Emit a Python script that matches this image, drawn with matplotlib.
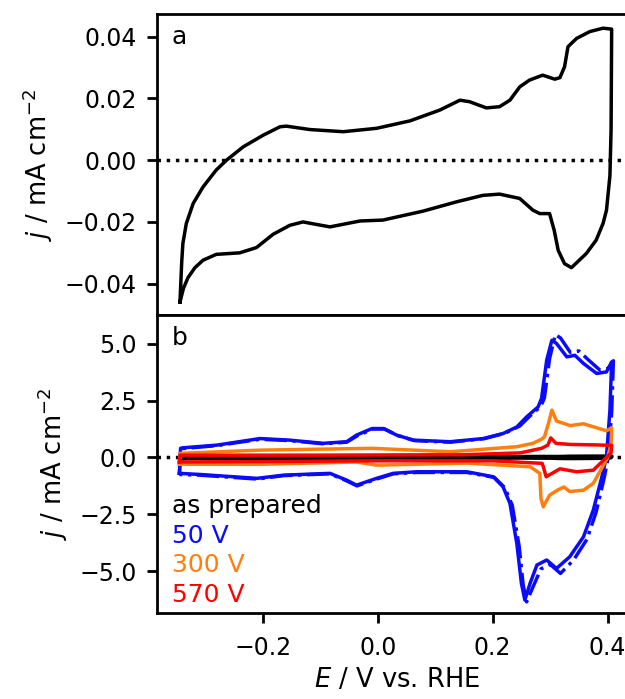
import matplotlib
matplotlib.use('Agg')
import matplotlib.pyplot as plt

# panel a: as prepared CV (mA cm-2)
E_asprep = [-0.344, -0.341, -0.339, -0.333, -0.321, -0.304, -0.281, -0.263, -0.234, -0.199,
            -0.170, -0.159, -0.118, -0.060, -0.002, 0.056, 0.108, 0.143, 0.160, 0.189,
            0.212, 0.230, 0.247, 0.264, 0.287, 0.308, 0.317, 0.325, 0.331, 0.346,
            0.369, 0.392, 0.407, 0.406, 0.404, 0.398, 0.392, 0.380, 0.363, 0.337,
            0.325, 0.314, 0.307, 0.299, 0.282, 0.270, 0.247, 0.212, 0.183, 0.137,
            0.079, 0.009, -0.031, -0.083, -0.107, -0.130, -0.153, -0.182, -0.211, -0.240,
            -0.281, -0.304, -0.318, -0.330, -0.338, -0.344]
j_asprep = [-0.0459, -0.0330, -0.0270, -0.0205, -0.0140, -0.0087, -0.0032, 0.0000, 0.0043, 0.0081,
            0.0108, 0.0110, 0.0099, 0.0092, 0.0103, 0.0127, 0.0162, 0.0194, 0.0189, 0.0169,
            0.0173, 0.0194, 0.0237, 0.0259, 0.0275, 0.0262, 0.0267, 0.0302, 0.0367, 0.0394,
            0.0416, 0.0427, 0.0424, 0.0100, -0.0050, -0.0162, -0.0205, -0.0259, -0.0302, -0.0348,
            -0.0335, -0.0292, -0.0227, -0.0173, -0.0173, -0.0162, -0.0124, -0.0110, -0.0114, -0.0135,
            -0.0165, -0.0194, -0.0197, -0.0216, -0.0208, -0.0200, -0.0211, -0.0240, -0.0283, -0.0300,
            -0.0305, -0.0324, -0.0348, -0.0380, -0.0415, -0.0459]

# panel b: 50 V, two cycles
E_50 = [-0.345, -0.343, -0.340, -0.280, -0.205, -0.153, -0.095, -0.054, -0.037, -0.010,
        0.010, 0.033, 0.062, 0.126, 0.184, 0.218, 0.242, 0.259, 0.279, 0.285,
        0.294, 0.303, 0.311, 0.329, 0.343, 0.358, 0.381, 0.398, 0.407, 0.404,
        0.398, 0.390, 0.375, 0.358, 0.334, 0.311, 0.294, 0.277, 0.265, 0.256,
        0.250, 0.242, 0.230, 0.218, 0.201, 0.155, 0.068, 0.027, -0.002, -0.037,
        -0.054, -0.083, -0.164, -0.210, -0.251, -0.309, -0.345]
j_50 = [-0.70, 0.40, 0.42, 0.54, 0.83, 0.76, 0.62, 0.69, 0.98, 1.27,
        1.27, 0.98, 0.76, 0.69, 0.83, 1.05, 1.34, 1.78, 2.22, 2.59,
        4.28, 5.15, 5.01, 4.42, 4.49, 4.13, 3.69, 3.76, 4.20, 2.08,
        0.03, -0.85, -2.32, -3.49, -4.37, -4.88, -4.51, -4.73, -5.54, -6.27,
        -5.54, -3.78, -2.02, -1.29, -0.85, -0.63, -0.63, -0.70, -0.92, -1.22,
        -1.00, -0.70, -0.78, -0.92, -0.85, -0.75, -0.70]

E_50b = [-0.345, -0.343, -0.280, -0.205, -0.153, -0.095, -0.054, -0.035, -0.008, 0.012,
         0.035, 0.064, 0.126, 0.186, 0.222, 0.247, 0.264, 0.284, 0.290, 0.299,
         0.309, 0.318, 0.335, 0.350, 0.366, 0.386, 0.400, 0.410, 0.407, 0.401,
         0.394, 0.380, 0.364, 0.341, 0.318, 0.300, 0.284, 0.270, 0.259, 0.253,
         0.246, 0.234, 0.221, 0.203, 0.155, 0.068, 0.027, -0.002, -0.036, -0.054,
         -0.083, -0.164, -0.210, -0.251, -0.309, -0.345]
j_50b = [-0.75, 0.38, 0.52, 0.80, 0.74, 0.60, 0.67, 0.96, 1.25, 1.25,
         0.96, 0.74, 0.67, 0.83, 1.07, 1.38, 1.80, 2.26, 2.62, 4.35,
         5.40, 5.25, 4.62, 4.68, 4.30, 3.85, 3.90, 4.25, 2.00, 0.00,
         -0.90, -2.40, -3.60, -4.50, -5.10, -4.70, -4.90, -5.70, -6.35, -5.60,
         -3.90, -2.10, -1.33, -0.88, -0.66, -0.66, -0.72, -0.95, -1.25, -1.03,
         -0.72, -0.80, -0.95, -0.88, -0.78, -0.75]

# 300 V
E_300 = [-0.345, -0.344, -0.205, -0.010, 0.126, 0.242, 0.270, 0.285, 0.290, 0.297,
         0.303, 0.311, 0.335, 0.358, 0.398, 0.407, 0.406, 0.400, 0.387, 0.375,
         0.358, 0.334, 0.324, 0.314, 0.299, 0.288, 0.284, 0.282, 0.265, 0.155,
         -0.002, -0.037, -0.200, -0.345]
j_300 = [-0.30, 0.18, 0.32, 0.40, 0.25, 0.47, 0.62, 0.80, 0.90, 1.49,
         2.08, 1.60, 1.40, 1.48, 1.17, 1.30, 0.60, 0.00, -0.60, -1.14,
         -1.44, -1.50, -1.30, -1.42, -1.66, -2.17, -1.80, -0.70, -0.41, -0.25,
         -0.34, -0.20, -0.30, -0.30]

# 570 V
E_570 = [-0.345, -0.344, -0.100, 0.150, 0.248, 0.285, 0.296, 0.301, 0.310, 0.335,
         0.380, 0.407, 0.406, 0.398, 0.375, 0.346, 0.317, 0.293, 0.288, 0.286,
         0.200, 0.000, -0.345]
j_570 = [-0.20, 0.10, 0.10, 0.12, 0.20, 0.40, 0.54, 0.86, 0.62, 0.57,
         0.55, 0.53, 0.20, 0.00, -0.56, -0.63, -0.50, -0.85, -0.40, -0.26,
         -0.15, -0.15, -0.20]

labels = ['as prepared', '50 V', '300 V', '570 V']
colors = ['black', '#0a0aff', '#ff7f0e', '#ff0000']

plt.rcParams['font.family'] = 'DejaVu Sans'
plt.rcParams['font.size'] = 18
plt.rcParams['xtick.labelsize'] = 17
plt.rcParams['ytick.labelsize'] = 17
plt.rcParams['axes.labelsize'] = 18.5
plt.rcParams['axes.labelpad'] = 7
plt.rcParams['axes.linewidth'] = 2
plt.rcParams['xtick.major.width'] = 2
plt.rcParams['ytick.major.width'] = 2
plt.rcParams['xtick.major.size'] = 7.5
plt.rcParams['ytick.major.size'] = 7.5
plt.rcParams['xtick.major.pad'] = 9
plt.rcParams['ytick.major.pad'] = 7

fig = plt.figure(figsize=(6.25, 6.99), dpi=100)
ax1 = fig.add_axes([0.2512, 0.549, 0.767, 0.431])
ax2 = fig.add_axes([0.2512, 0.123, 0.767, 0.426], sharex=ax1)

ax1.plot(E_asprep, j_asprep, color='k', lw=2.5)
ax1.axhline(0, color='k', ls=':', lw=2.5)
ax1.set_ylim(-0.0502, 0.0473)
ax1.set_yticks([-0.04, -0.02, 0.0, 0.02, 0.04])
ax1.set_ylabel('$j$ / mA cm$^{-2}$')
ax1.tick_params(axis='x', bottom=False, labelbottom=False)
ax1.text(0.03, 0.965, 'a', transform=ax1.transAxes, va='top', ha='left', fontsize=18)

ax2.axhline(0, color='k', ls=':', lw=2.5)
ax2.plot(E_asprep, j_asprep, color=colors[0], lw=3, label=labels[0])
ax2.plot(E_50, j_50, color=colors[1], lw=2.5, label=labels[1])
ax2.plot(E_50b, j_50b, color=colors[1], lw=2.5, ls='-.')
ax2.plot(E_300, j_300, color=colors[2], lw=2.5, label=labels[2])
ax2.plot(E_570, j_570, color=colors[3], lw=2.5, label=labels[3])
ax2.set_ylim(-6.84, 6.25)
ax2.set_yticks([-5.0, -2.5, 0.0, 2.5, 5.0])
ax2.set_xlim(-0.384, 0.45)
ax2.set_xticks([-0.2, 0.0, 0.2, 0.4])
ax2.set_ylabel('$j$ / mA cm$^{-2}$')
ax2.set_xlabel('$E$ / V vs. RHE', labelpad=5)
ax2.text(0.03, 0.965, 'b', transform=ax2.transAxes, va='top', ha='left', fontsize=18)
ax2.legend(loc='lower left', bbox_to_anchor=(0.019, 0.0), handlelength=0, handletextpad=0,
           frameon=False, fontsize=18, labelcolor='linecolor', borderaxespad=0,
           borderpad=0.25, labelspacing=0.22)

fig.savefig('out.png', dpi=100)
